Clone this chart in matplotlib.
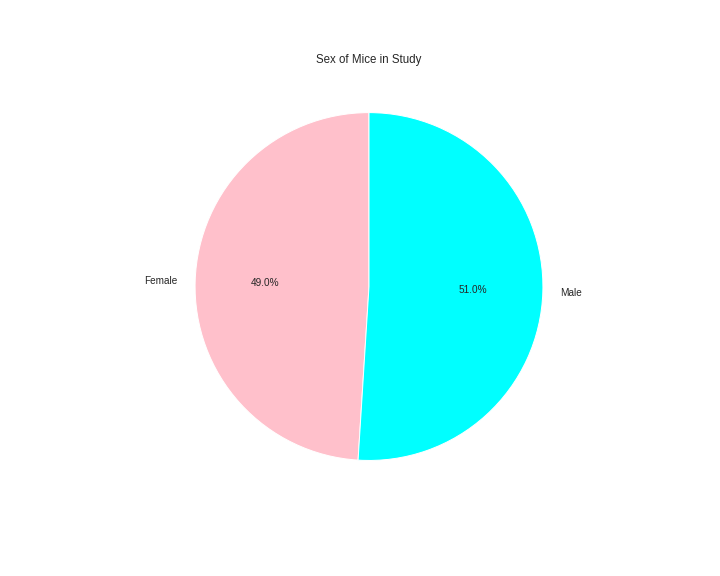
import matplotlib
matplotlib.use('Agg')
import matplotlib.pyplot as plt

plt.style.use('seaborn-v0_8-white')
plt.rcParams['font.family'] = ['Liberation Sans', 'DejaVu Sans']

sexes = ['Female', 'Male']
counts = [49.0, 51.0]
colors = ['pink', 'cyan']

fig = plt.figure(figsize=(10, 8), dpi=72)
plt.pie(counts, labels=sexes, colors=colors, autopct='%1.1f%%', startangle=90,
        wedgeprops={'edgecolor': 'white'}, textprops={'fontsize': 10, 'color': '.15'})
plt.title('Sex of Mice in Study', fontsize=11.5, color='.15')
plt.xlim(-1.275, 1.275)
plt.ylim(-1.30, 1.25)
plt.savefig('out.png', dpi=72)
